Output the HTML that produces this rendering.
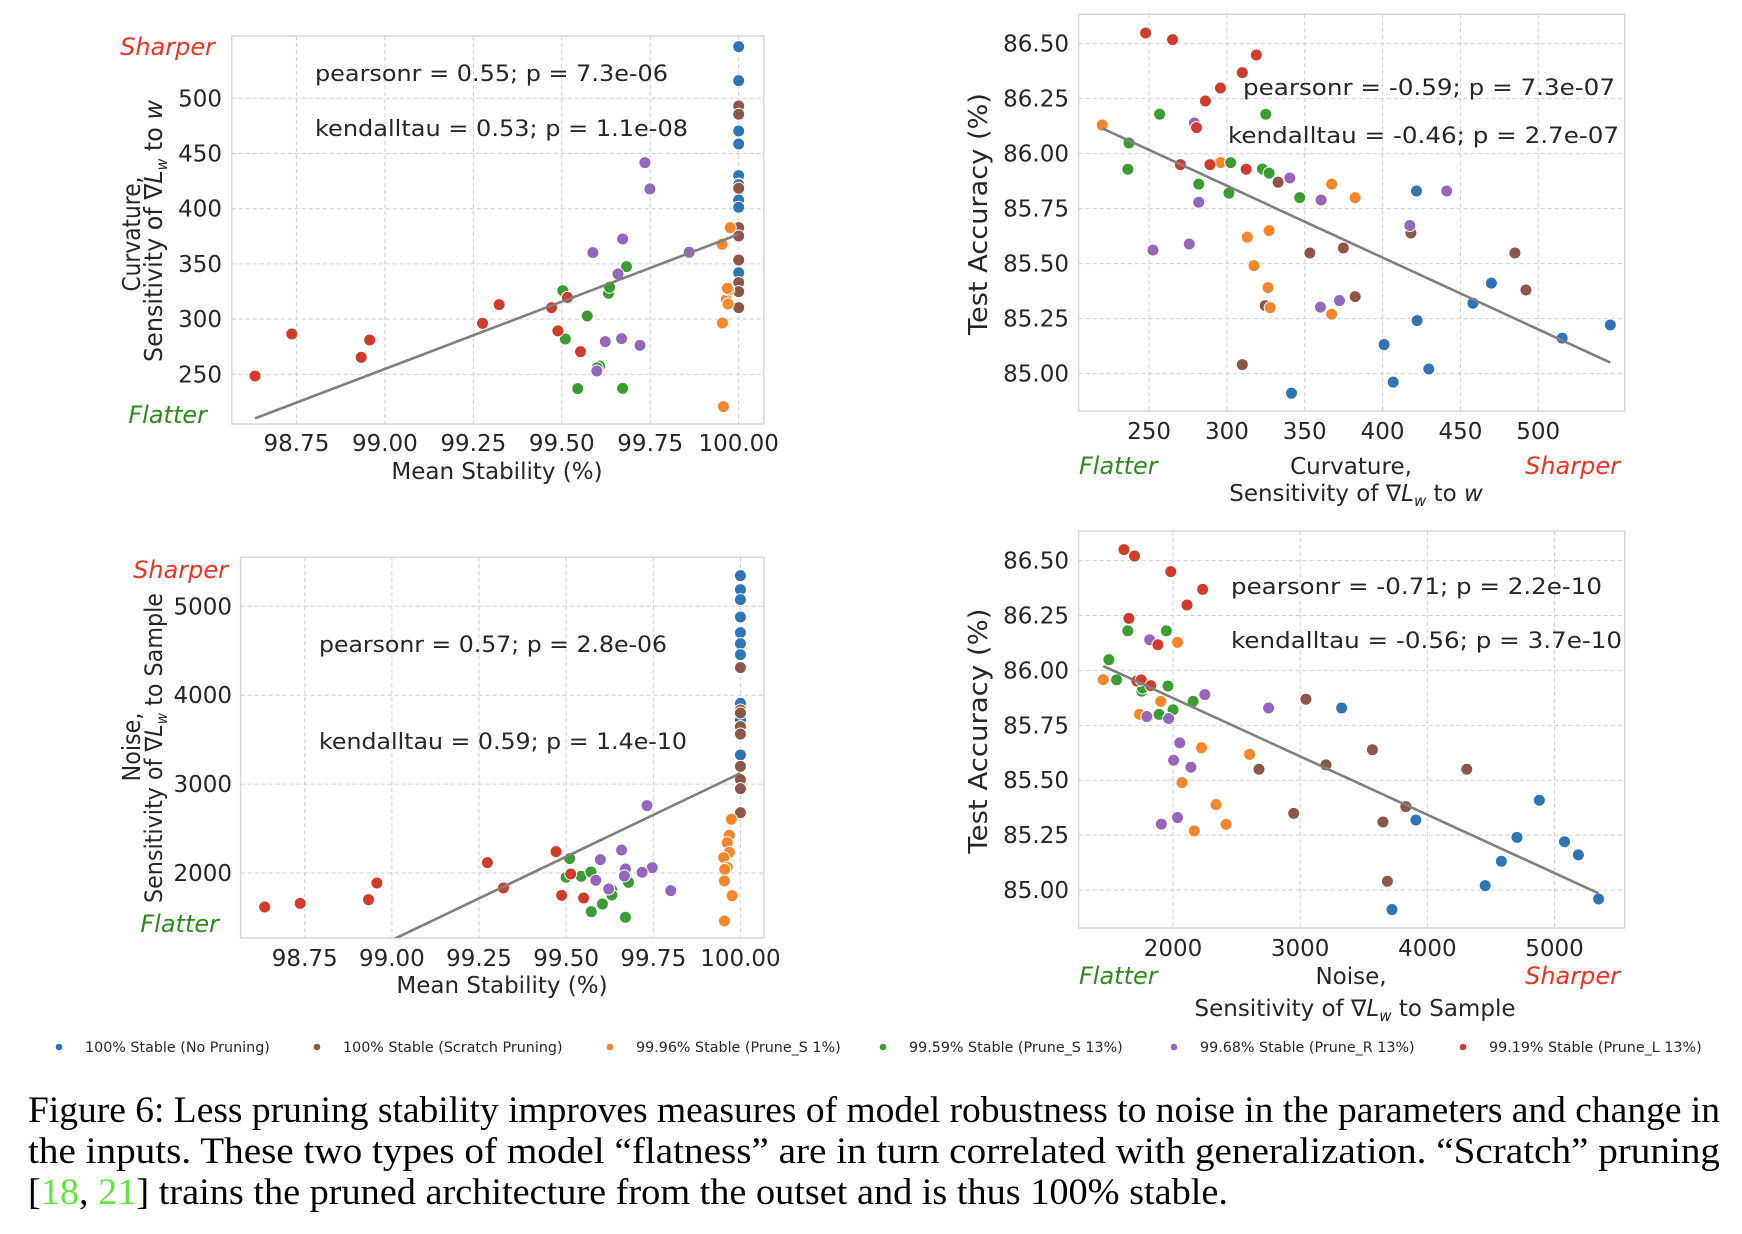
<!DOCTYPE html>
<html><head><meta charset="utf-8"><style>
html,body{margin:0;padding:0;background:#fff;}
svg{display:block;}
</style></head><body>
<svg id="fig" xmlns="http://www.w3.org/2000/svg" width="1742" height="1234" viewBox="0 0 1742 1234" font-family="'DejaVu Sans','Liberation Sans',sans-serif">
<defs>
<clipPath id="c1"><rect x="231.7" y="36" width="532.1" height="388"/></clipPath>
<clipPath id="c2"><rect x="1078.7" y="14.3" width="546.1" height="396.7"/></clipPath>
<clipPath id="c3"><rect x="240.6" y="557.3" width="523.2" height="380.7"/></clipPath>
<clipPath id="c4"><rect x="1078.7" y="531" width="546.1" height="397"/></clipPath>
</defs>
<g id="p1"></g>
<g id="p2"></g>
<g id="p3"></g>
<g id="p4"></g>
<g id="legend"></g>
<g font-family="'Liberation Serif',serif" font-size="37" fill="#000">
<text x="28" y="1122" textLength="1692" lengthAdjust="spacingAndGlyphs">Figure 6: Less pruning stability improves measures of model robustness to noise in the parameters and change in</text>
<text x="28" y="1163" textLength="1692" lengthAdjust="spacingAndGlyphs">the inputs. These two types of model “flatness” are in turn correlated with generalization. “Scratch” pruning</text>
<text x="28" y="1204" textLength="1200" lengthAdjust="spacingAndGlyphs">[<tspan fill="#5fe83c">18</tspan>, <tspan fill="#5fe83c">21</tspan>] trains the pruned architecture from the outset and is thus 100% stable.</text>
</g>
</svg>
<script>
// ---- series metadata ----
const seriesNames = ["100% Stable (No Pruning)","100% Stable (Scratch Pruning)","99.96% Stable (Prune_S 1%)","99.59% Stable (Prune_S 13%)","99.68% Stable (Prune_R 13%)","99.19% Stable (Prune_L 13%)"];
const seriesColors = ["#2f74b5","#8c564b","#f5862a","#3b9c32","#9467bd","#d03b2c"];

// ---- Panel 1: curvature vs mean stability ----
const p1BlueX = [100,100,100,100,100,100,100,100,100,100];
const p1BlueY = [546.8,516,470.4,458.6,429.9,422.4,421.8,407.9,401.3,342];
const p1BrownX = [100,100,100,100,100,100,100,100,100];
const p1BrownY = [493,485.5,418.5,382.8,375.3,353.5,333,324.9,310.4];
const p1OrangeX = [99.976,99.953,99.97,99.965,99.97,99.954,99.957,99.967,99.972,99.968];
const p1OrangeY = [382.8,367.8,328.8,317.9,313.7,296.5,220.7,327,326.4,327.8];
const p1GreenX = [99.503,99.51,99.572,99.607,99.545,99.672,99.632,99.635,99.683,99.6];
const p1GreenY = [325.8,282,302.8,257.5,237,237.3,323.4,328.8,347.5,256];
const p1PurpleX = [99.735,99.749,99.672,99.588,99.86,99.659,99.623,99.669,99.721,99.599];
const p1PurpleY = [441.7,417.9,372.6,360.2,360.5,340.9,279.6,282.3,276.3,253];
const p1RedX = [98.633,98.737,98.933,98.957,99.276,99.323,99.471,99.516,99.489,99.553];
const p1RedY = [248.5,286.5,265.4,281.1,296.2,313.1,310.4,319.7,289.3,270.5];
const p1FitX = [98.633,100];
const p1FitY = [210.1,376.8];
const p1XTicks = [98.75,99.00,99.25,99.50,99.75,100.00];
const p1XTickLabels = ["98.75","99.00","99.25","99.50","99.75","100.00"];
const p1YTicks = [250,300,350,400,450,500];
const p1YTickLabels = ["250","300","350","400","450","500"];
const p1Stats = ["pearsonr = 0.55; p = 7.3e-06","kendalltau = 0.53; p = 1.1e-08"];

// ---- Panel 2: test accuracy vs curvature ----
const p2BlueX = [421.8,469.9,458,422.2,546.3,515.4,401,429.7,406.8,341.5];
const p2BlueY = [85.83,85.411,85.32,85.241,85.221,85.161,85.132,85.021,84.961,84.911];
const p2BrownX = [332.9,418.2,374.8,353.3,485,492.1,382.4,324.6,309.9];
const p2BrownY = [85.87,85.639,85.571,85.548,85.548,85.38,85.35,85.309,85.041];
const p2OrangeX = [219.9,295.9,367.3,382.4,327.1,313.1,317.4,326.4,327.8,367.3];
const p2OrangeY = [86.13,85.959,85.861,85.8,85.65,85.62,85.491,85.391,85.3,85.27];
const p2GreenX = [256.8,325,237.1,236.4,302.4,322.8,327.1,281.9,301.3,346.8];
const p2GreenY = [86.179,86.179,86.048,85.929,85.959,85.93,85.911,85.861,85.82,85.8];
const p2PurpleX = [279.1,340.4,281.9,360.5,441.2,417.5,275.8,252.5,372.3,360.1];
const p2PurpleY = [86.139,85.889,85.779,85.789,85.83,85.673,85.589,85.561,85.332,85.302];
const p2RedX = [247.8,265.1,318.9,309.9,295.9,286.2,280.5,270.1,289.1,312.4];
const p2RedY = [86.548,86.518,86.448,86.368,86.298,86.239,86.118,85.95,85.95,85.929];
const p2FitX = [219.9,546.3];
const p2FitY = [86.115,85.05];
const p2XTicks = [250,300,350,400,450,500];
const p2XTickLabels = ["250","300","350","400","450","500"];
const p2YTicks = [85.00,85.25,85.50,85.75,86.00,86.25,86.50];
const p2YTickLabels = ["85.00","85.25","85.50","85.75","86.00","86.25","86.50"];
const p2Stats = ["pearsonr = -0.59; p = 7.3e-07","kendalltau = -0.46; p = 2.7e-07"];

// ---- Panel 3: noise vs mean stability ----
const p3BlueX = [100,100,100,100,100,100,100,100,100,100];
const p3BlueY = [5345,5187,5075,4880,4704,4580,4456,3909,3721,3328];
const p3BrownX = [100,100,100,100,100,100,100,100,100];
const p3BrownY = [4310,3834,3800,3646,3564,3200,3050,2949,2679];
const p3OrangeX = [99.974,99.968,99.962,99.968,99.952,99.962,99.955,99.954,99.976,99.954];
const p3OrangeY = [2604,2424,2342,2233,2173,2064,2042,1910,1745,1460];
const p3GreenX = [99.51,99.5,99.543,99.571,99.631,99.631,99.679,99.604,99.572,99.67];
const p3GreenY = [2162,1952,1963,2012,1809,1753,1895,1652,1565,1502];
const p3PurpleX = [99.732,99.659,99.598,99.67,99.747,99.718,99.667,99.585,99.622,99.8];
const p3PurpleY = [2758,2259,2150,2045,2060,2008,1967,1918,1820,1802];
const p3RedX = [98.635,98.737,98.933,98.957,99.274,99.32,99.471,99.513,99.487,99.55];
const p3RedY = [1618,1659,1700,1888,2117,1832,2240,1989,1749,1719];
const p3FitX = [98.633,100];
const p3FitY = [557,3122];
const p3XTicks = [98.75,99.00,99.25,99.50,99.75,100.00];
const p3XTickLabels = ["98.75","99.00","99.25","99.50","99.75","100.00"];
const p3YTicks = [2000,3000,4000,5000];
const p3YTickLabels = ["2000","3000","4000","5000"];
const p3Stats = ["pearsonr = 0.57; p = 2.8e-06","kendalltau = 0.59; p = 1.4e-10"];

// ---- Panel 4: test accuracy vs noise ----
const p4BlueX = [3326,4881,3910,4705,5079,5188,4582,4455,5347,3722];
const p4BlueY = [85.829,85.409,85.319,85.24,85.22,85.16,85.131,85.02,84.959,84.911];
const p4BrownX = [3045,3568,4310,3203,2676,3831,2949,3651,3686];
const p4BrownY = [85.869,85.639,85.55,85.57,85.55,85.38,85.349,85.31,85.04];
const p4OrangeX = [2035,1451,1903,1737,2224,2602,2070,2338,2417,2167];
const p4OrangeY = [86.128,85.958,85.859,85.8,85.648,85.618,85.489,85.389,85.299,85.269];
const p4GreenX = [1644,1947,1495,1556,1754,1960,2158,1890,2000,1760];
const p4GreenY = [86.18,86.18,86.049,85.957,85.906,85.929,85.859,85.8,85.821,85.92];
const p4PurpleX = [1816,2250,2751,1794,1965,2053,2004,2141,2035,1908];
const p4PurpleY = [86.14,85.89,85.829,85.79,85.781,85.67,85.591,85.559,85.33,85.3];
const p4RedX = [1614,1697,1982,2233,2110,1653,1881,1715,1750,1824];
const p4RedY = [86.55,86.521,86.45,86.369,86.298,86.237,86.117,85.952,85.957,85.931];
const p4FitX = [1451,5347];
const p4FitY = [86.02,84.985];
const p4XTicks = [2000,3000,4000,5000];
const p4XTickLabels = ["2000","3000","4000","5000"];
const p4YTicks = [85.00,85.25,85.50,85.75,86.00,86.25,86.50];
const p4YTickLabels = ["85.00","85.25","85.50","85.75","86.00","86.25","86.50"];
const p4Stats = ["pearsonr = -0.71; p = 2.2e-10","kendalltau = -0.56; p = 3.7e-10"];

const NS = "http://www.w3.org/2000/svg";
const seriesKeys = ["blue","brown","orange","green","purple","red"];
function mk(tag, attrs, parent){
  const e = document.createElementNS(NS, tag);
  for (const k in attrs) e.setAttribute(k, attrs[k]);
  parent.appendChild(e);
  return e;
}
function scale(d0,d1,r0,r1){ return v => r0 + (v-d0)/(d1-d0)*(r1-r0); }

function drawPanel(o){
  const g = document.getElementById(o.id);
  const sx = scale(o.xd[0],o.xd[1],o.box[0],o.box[2]);
  const sy = scale(o.yd[0],o.yd[1],o.box[3],o.box[1]);
  const [L,T,R,B] = o.box;
  const bg = mk('rect',{x:L,y:T,width:R-L,height:B-T,fill:'#fff',stroke:'#d9d9d9','stroke-width':1.5},g);
  
  
  o.xt.forEach((v,i)=>{
    const x = sx(v);
    const gl = mk('line',{x1:x,x2:x,y1:T,y2:B,stroke:'#d0d0d0','stroke-width':1,'stroke-dasharray':'4,3'},g);
    
    
    const t = mk('text',{x:x,y:o.xtY,'text-anchor':'middle','font-size':23,fill:'#262626'},g);
    t.textContent = o.xl[i];
    
    
  });
  o.yt.forEach((v,i)=>{
    const y = sy(v);
    const gl = mk('line',{x1:L,x2:R,y1:y,y2:y,stroke:'#d0d0d0','stroke-width':1,'stroke-dasharray':'4,3'},g);
    
    
    const t = mk('text',{x:o.ytX,y:y+8,'text-anchor':'end','font-size':23,fill:'#262626'},g);
    t.textContent = o.yl[i];
    
    
  });
  const pts = mk('g',{'clip-path':'url(#'+o.clip+')'},g);
  
  
  o.series.forEach((s,si)=>{
    s[0].forEach((xv,j)=>{
      const c = mk('circle',{cx:sx(xv),cy:sy(s[1][j]),r:6,fill:seriesColors[si],stroke:'#fff','stroke-width':1},pts);
      
      
    });
  });
  const ln = mk('line',{x1:sx(o.fitX[0]),y1:sy(o.fitY[0]),x2:sx(o.fitX[1]),y2:sy(o.fitY[1]),stroke:'#7f7f7f','stroke-width':2.6},pts);
  
  
  o.stats.forEach((s,i)=>{
    const t = mk('text',{x:o.statPos[i][0],y:o.statPos[i][1],'font-size':22,fill:'#262626',textLength:o.statPos[i][2],lengthAdjust:'spacingAndGlyphs'},g);
    t.textContent = s;
    
    
  });
  o.labels.forEach(lb=>{
    const a = {x:lb.x,y:lb.y,'font-size':lb.fs||23,fill:lb.fill||'#262626','text-anchor':lb.anchor||'middle'};
    if (lb.rot) a.transform = 'rotate(-90 '+lb.x+' '+lb.y+')';
    if (lb.italic) a['font-style']='italic';
    if (lb.tl){ a.textLength=lb.tl; a.lengthAdjust='spacingAndGlyphs'; }
    const t = mk('text',a,g);
    if (lb.html) t.innerHTML = lb.html; else t.textContent = lb.text;
    
    
  });
}
const nab = '∇<tspan font-style="italic">L</tspan><tspan font-style="italic" font-size="15" dy="5">w</tspan><tspan dy="-5">';

drawPanel({id:'p1',clip:'c1',box:[231.7,36,763.8,424],xd:[98.567,100.071],yd:[205,556.4],
  xt:p1XTicks,xl:p1XTickLabels,yt:p1YTicks,yl:p1YTickLabels,xtY:451,ytX:222,
  series:[[p1BlueX,p1BlueY],[p1BrownX,p1BrownY],[p1OrangeX,p1OrangeY],[p1GreenX,p1GreenY],[p1PurpleX,p1PurpleY],[p1RedX,p1RedY]],
  fitX:p1FitX,fitY:p1FitY,stats:p1Stats,statPos:[[315,81,353],[315,136,373]],
  labels:[
    {name:'sharper-label',text:'Sharper',x:215,y:55,anchor:'end',italic:1,fill:'#ee3322',fs:24},
    {name:'flatter-label',text:'Flatter',x:207,y:423,anchor:'end',italic:1,fill:'#2f8a1e',fs:24},
    {name:'x-axis-title',text:'Mean Stability (%)',x:497,y:479},
    {name:'y-axis-title',text:'Curvature,',x:140,y:234,rot:1,fs:25,tl:115},
    {name:'y-axis-title-line2',html:'Sensitivity of '+nab+' to </tspan><tspan font-style="italic">w</tspan>',x:162,y:231,rot:1,fs:25,tl:262}
  ]});
drawPanel({id:'p2',clip:'c2',box:[1078.7,14.3,1624.8,411],xd:[204.8,555.6],yd:[84.83,86.633],
  xt:p2XTicks,xl:p2XTickLabels,yt:p2YTicks,yl:p2YTickLabels,xtY:439,ytX:1069,
  series:[[p2BlueX,p2BlueY],[p2BrownX,p2BrownY],[p2OrangeX,p2OrangeY],[p2GreenX,p2GreenY],[p2PurpleX,p2PurpleY],[p2RedX,p2RedY]],
  fitX:p2FitX,fitY:p2FitY,stats:p2Stats,statPos:[[1243,95,372],[1228,143,391]],
  labels:[
    {name:'flatter-label',text:'Flatter',x:1079,y:474,anchor:'start',italic:1,fill:'#2f8a1e',fs:24},
    {name:'sharper-label',text:'Sharper',x:1620,y:474,anchor:'end',italic:1,fill:'#ee3322',fs:24},
    {name:'x-axis-title',text:'Curvature,',x:1351,y:474},
    {name:'x-axis-title-line2',html:'Sensitivity of '+nab+' to </tspan><tspan font-style="italic">w</tspan>',x:1356,y:501},
    {name:'y-axis-title',text:'Test Accuracy (%)',x:987,y:214,rot:1,fs:26,tl:242}
  ]});
drawPanel({id:'p3',clip:'c3',box:[240.6,557.3,763.8,938],xd:[98.566,100.067],yd:[1269,5551],
  xt:p3XTicks,xl:p3XTickLabels,yt:p3YTicks,yl:p3YTickLabels,xtY:966,ytX:232,
  series:[[p3BlueX,p3BlueY],[p3BrownX,p3BrownY],[p3OrangeX,p3OrangeY],[p3GreenX,p3GreenY],[p3PurpleX,p3PurpleY],[p3RedX,p3RedY]],
  fitX:p3FitX,fitY:p3FitY,stats:p3Stats,statPos:[[319,652,348],[319,749,368]],
  labels:[
    {name:'sharper-label',text:'Sharper',x:228,y:578,anchor:'end',italic:1,fill:'#ee3322',fs:24},
    {name:'flatter-label',text:'Flatter',x:219,y:932,anchor:'end',italic:1,fill:'#2f8a1e',fs:24},
    {name:'x-axis-title',text:'Mean Stability (%)',x:502,y:993},
    {name:'y-axis-title',text:'Noise,',x:140,y:747,rot:1,fs:25,tl:69},
    {name:'y-axis-title-line2',html:'Sensitivity of '+nab+' to Sample</tspan>',x:162,y:748,rot:1,fs:24,tl:310}
  ]});
drawPanel({id:'p4',clip:'c4',box:[1078.7,531,1624.8,928],xd:[1258,5553],yd:[84.827,86.635],
  xt:p4XTicks,xl:p4XTickLabels,yt:p4YTicks,yl:p4YTickLabels,xtY:956,ytX:1069,
  series:[[p4BlueX,p4BlueY],[p4BrownX,p4BrownY],[p4OrangeX,p4OrangeY],[p4GreenX,p4GreenY],[p4PurpleX,p4PurpleY],[p4RedX,p4RedY]],
  fitX:p4FitX,fitY:p4FitY,stats:p4Stats,statPos:[[1231,594,371],[1231,648,391]],
  labels:[
    {name:'flatter-label',text:'Flatter',x:1079,y:984,anchor:'start',italic:1,fill:'#2f8a1e',fs:24},
    {name:'sharper-label',text:'Sharper',x:1620,y:984,anchor:'end',italic:1,fill:'#ee3322',fs:24},
    {name:'x-axis-title',text:'Noise,',x:1351,y:984},
    {name:'x-axis-title-line2',html:'Sensitivity of '+nab+' to Sample</tspan>',x:1355,y:1016},
    {name:'y-axis-title',text:'Test Accuracy (%)',x:987,y:731,rot:1,fs:26,tl:245}
  ]});

// legend
const legendMarkerX = [59,317,610,883,1174,1463];
const lg = document.getElementById('legend');
seriesNames.forEach((n,i)=>{
  const c = mk('circle',{cx:legendMarkerX[i],cy:1047,r:3.3,fill:seriesColors[i]},lg);
  
  
  const t = mk('text',{x:legendMarkerX[i]+26,y:1052,'font-size':14.3,fill:'#262626'},lg);
  t.textContent = n;
  
  
});
</script>
</body></html>
